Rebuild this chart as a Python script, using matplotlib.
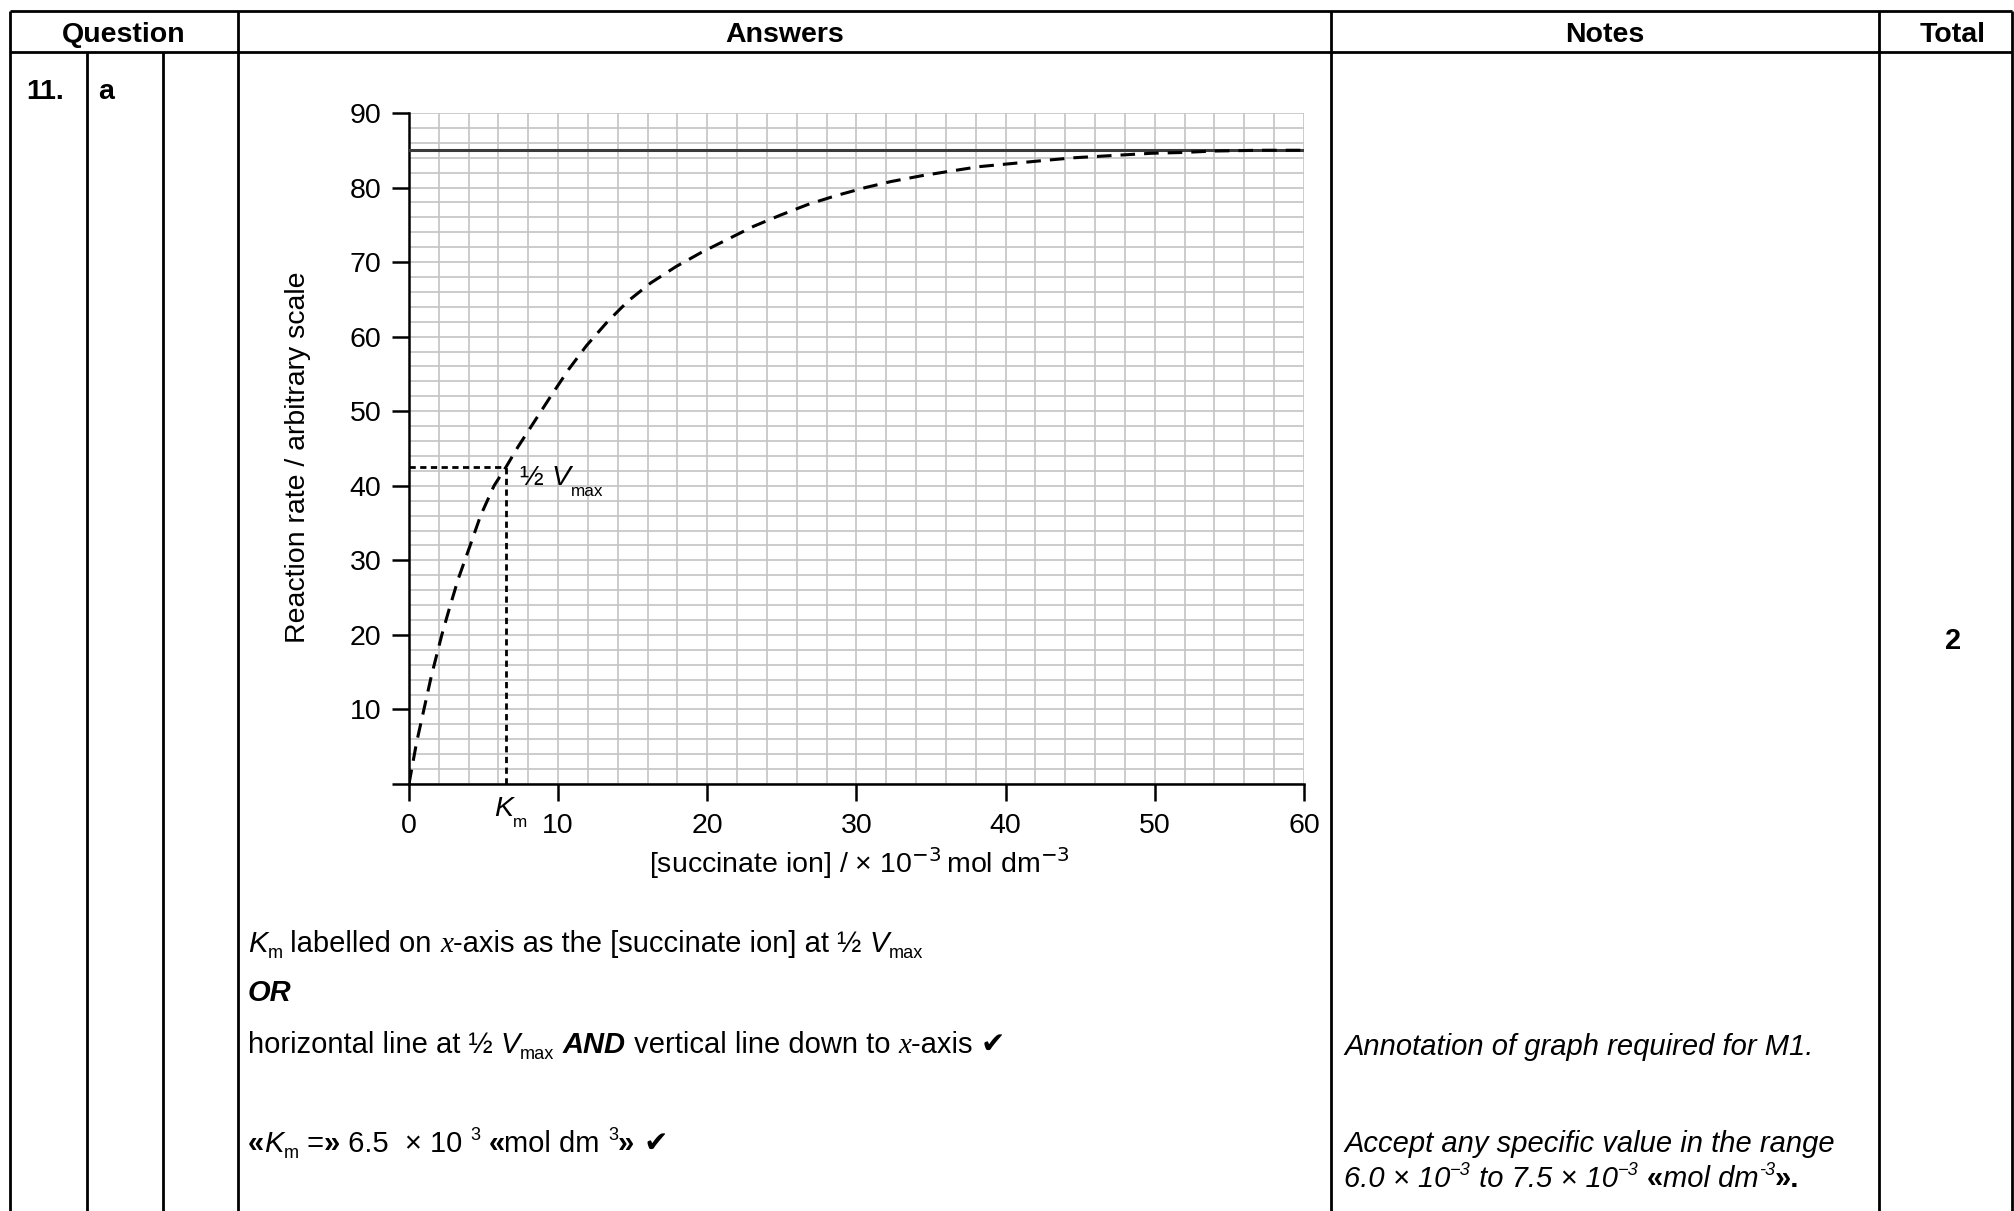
import numpy as np
import matplotlib
matplotlib.use('Agg')
import matplotlib.pyplot as plt
from matplotlib.font_manager import FontProperties

plt.rcParams['font.family'] = ['Liberation Sans', 'DejaVu Sans']
plt.rcParams['lines.scale_dashes'] = False

# values
succinate = [0, 0.5, 1.0, 1.5, 2.2, 2.7, 3.3, 4.1, 4.8, 5.7, 6.5, 7.3, 8.4, 9.5,
             10.7, 11.9, 13.3, 14.7, 16.2, 17.9, 19.6, 21.4, 23.1, 24.9, 26.7,
             28.6, 30.6, 32.3, 34.4, 36.3, 38.2, 40.3, 42.4, 44.6, 47.2, 49.8,
             51.8, 54.0, 57.0, 60.0]
rate = [0, 5.5, 10, 14.5, 20, 23.5, 27.5, 32, 36, 40, 42.5, 45.2, 48.6, 52,
        55.6, 58.8, 62, 64.8, 67.2, 69.4, 71.3, 73.1, 74.8, 76.3, 77.7,
        78.9, 80, 80.8, 81.6, 82.2, 82.8, 83.2, 83.6, 84.0, 84.3, 84.6,
        84.7, 84.9, 85, 85]
vmax = 85
half_vmax = vmax / 2
km = 6.5

x_ticks = [0, 10, 20, 30, 40, 50, 60]
x_tick_labels = ['0', '10', '20', '30', '40', '50', '60']
y_ticks = [0, 10, 20, 30, 40, 50, 60, 70, 80, 90]
y_tick_labels = ['', '10', '20', '30', '40', '50', '60', '70', '80', '90']

headers = ['Question', 'Answers', 'Notes', 'Total']

# page layout (pixels)
W, H = 2015, 1211
PX = 100 / 72
col_x = [10, 87, 163, 238, 1331, 1879, 2012]
top_y, head_y = 11, 52

fig = plt.figure(figsize=(W / 100, H / 100), dpi=100)

# graph
ax = fig.add_axes([409 / W, 1 - 784 / H, 895 / W, 671 / H])
ax.set_xlim(x_ticks[0], x_ticks[-1])
ax.set_ylim(y_ticks[0], y_ticks[-1])
ax.set_xticks(x_ticks)
ax.set_xticklabels(x_tick_labels)
ax.set_yticks(y_ticks)
ax.set_yticklabels(y_tick_labels)
ax.set_xticks(np.arange(0, 61, 2), minor=True)
ax.set_yticks(np.arange(0, 91, 2), minor=True)
ax.grid(which='both', color='#c4c4c4', lw=1.2)
ax.set_axisbelow(True)
ax.tick_params(which='minor', length=0)
ax.tick_params(which='major', length=12, width=1.8, labelsize=20.5, direction='out')
ax.tick_params(axis='y', pad=8)
ax.tick_params(axis='x', pad=9)
for side in ['top', 'right']:
    ax.spines[side].set_visible(False)
for side in ['left', 'bottom']:
    ax.spines[side].set_linewidth(1.8)

ax.axhline(vmax, color='#3a3a3a', lw=2.2, zorder=3)
ax.plot(succinate, rate, color='k', lw=2.2, ls=(0, (10.5, 6.5)), zorder=4)
ax.plot([0, km], [half_vmax, half_vmax], color='k', lw=2.0, ls=(0, (4.5, 3.2)), zorder=4)
ax.plot([km, km], [0, half_vmax], color='k', lw=2.0, ls=(0, (4.5, 3.2)), zorder=4)

ax.set_xlabel(r'[succinate ion] / × 10$^{-3}\,$mol dm$^{-3}$', fontsize=20.5, va='center')
ax.xaxis.set_label_coords(0.503, -0.118)
ax.set_ylabel('Reaction rate / arbitrary scale', fontsize=20.5, va='center')
ax.yaxis.set_label_coords(-0.124, 0.487)

# page overlay in pixel coordinates, drawn above the graph
bg = fig.add_axes([0, 0, 1, 1], zorder=5)
bg.set_xlim(0, W)
bg.set_ylim(H, 0)
bg.axis('off')

# table rules
bg.hlines([top_y, head_y], col_x[0], col_x[-1], color='k', lw=2)
bg.vlines([col_x[0], col_x[3], col_x[4], col_x[5], col_x[6]], top_y, H, color='k', lw=2)
bg.vlines([col_x[1], col_x[2]], head_y, H, color='k', lw=2)

head_centres = [(col_x[0] + col_x[3]) / 2, (col_x[3] + col_x[4]) / 2,
                (col_x[4] + col_x[5]) / 2, 1953]
for cx, h in zip(head_centres, headers):
    bg.text(cx, 42, h, fontsize=20.5, weight='bold', ha='center', va='baseline')

bg.text(26, 99, '11.', fontsize=20.5, weight='bold', va='baseline')
bg.text(98, 99, 'a', fontsize=20.5, weight='bold', va='baseline')
bg.text(1953, 649, '2', fontsize=21, weight='bold', ha='center', va='baseline')

# mixed-font text runs
STYLE = {
    'r': dict(family='Liberation Sans'),
    'i': dict(family='Liberation Sans', style='italic'),
    'b': dict(family='Liberation Sans', weight='bold'),
    'bi': dict(family='Liberation Sans', weight='bold', style='italic'),
    'x': dict(family='Liberation Serif', style='italic'),
    'ck': dict(family='DejaVu Sans', weight='bold'),
}
KIND = {'n': (1.0, 0.0), 'sub': (0.62, 0.2), 'low': (0.6, 0.38), 'sup': (0.62, -0.42)}
renderer = fig.canvas.get_renderer()


def run_width(s, fp):
    w_all = renderer.get_text_width_height_descent('|' + s + '|', fp, ismath=False)[0]
    w_bar = renderer.get_text_width_height_descent('||', fp, ismath=False)[0]
    return w_all - w_bar


def write(x, y, runs, size=21):
    for r in runs:
        s, style = r[0], r[1]
        scale, shift = KIND[r[2] if len(r) > 2 else 'n']
        fp = FontProperties(size=size * scale, **STYLE[style])
        bg.text(x, y + shift * size * PX, s, fontproperties=fp, ha='left', va='baseline')
        x += run_width(s, fp)


# labels on the graph, placed from the data positions
kx, ky = ax.transData.transform((km, 0))
write(kx - 12, H - ky + 32, [('K', 'i'), ('m', 'r', 'low')], size=20.5)
hx, hy = ax.transData.transform((km, half_vmax))
write(hx + 14, H - hy + 18, [('½ ', 'r'), ('V', 'i'), ('max', 'r', 'low')], size=20.5)

# answers column
write(248, 952, [('K', 'i'), ('m', 'r', 'sub'), (' labelled on ', 'r'), ('x', 'x'),
                 ('-axis as the [succinate ion] at ½ ', 'r'), ('V', 'i'), ('max', 'r', 'sub')])
write(248, 1001, [('OR', 'bi')])
write(248, 1053, [('horizontal line at ½ ', 'r'), ('V', 'i'), ('max', 'r', 'sub'), (' ', 'r'),
                  ('AND', 'bi'), (' vertical line down to ', 'r'), ('x', 'x'),
                  ('-axis ', 'r'), ('✔', 'ck')])
write(248, 1152, [('«', 'b'), ('K', 'i'), ('m', 'r', 'sub'), (' =', 'r'), ('»', 'b'),
                  (' 6.5  × 10 ', 'r'), ('3', 'r', 'sup'), (' ', 'r'), ('«', 'b'),
                  ('mol dm ', 'r'), ('3', 'r', 'sup'), ('»', 'b'), (' ✔', 'ck')])

# notes column
write(1344, 1055, [('Annotation of graph required for M1.', 'i')])
write(1344, 1152, [('Accept any specific value in the range', 'i')])
write(1344, 1187, [('6.0 × 10', 'i'), ('−3', 'i', 'sup'), (' to 7.5 × 10', 'i'),
                   ('−3', 'i', 'sup'), (' ', 'i'), ('«', 'b'), ('mol dm', 'i'),
                   ('-3', 'i', 'sup'), ('».', 'b')])

fig.savefig('out.png', dpi=100)
